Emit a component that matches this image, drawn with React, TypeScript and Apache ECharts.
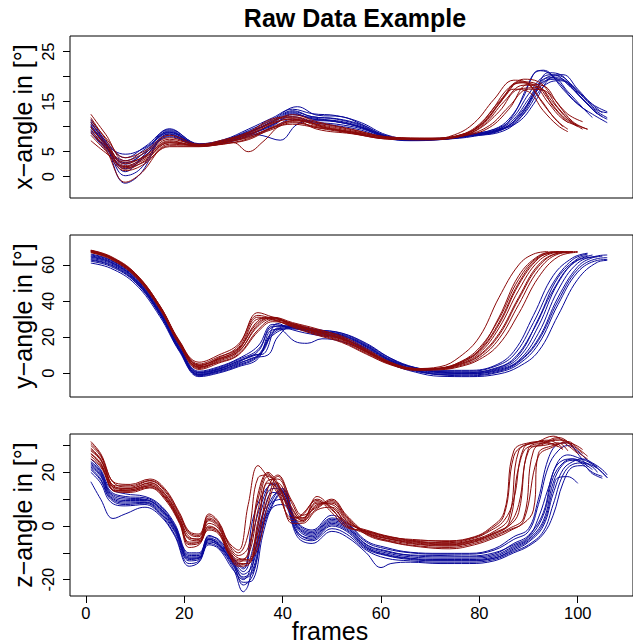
import { useEffect, useRef } from "react";
import * as echarts from "echarts";

type Curve = number[][];

const frameTicks = [0, 20, 40, 60, 80, 100];
const xAngleTicks = [0, 5, 10, 15, 20, 25];
const xAngleLabels = [0, 5, 15, 25];
const yAngleTicks = [0, 20, 40, 60];
const zAngleTicks = [-20, -10, 0, 10, 20, 30];
const zAngleLabels = [-20, 0, 20];

const chartTitle = "Raw Data Example";
const yTitles = ["x\u2212angle in [\u00b0]", "y\u2212angle in [\u00b0]", "z\u2212angle in [\u00b0]"];
const xTitle = "frames";

// ---------- x-angle ----------
const xAngleRed: Curve[] = [
  [[1,12.5],[4,8.5],[8,3.2],[12,4.8],[17,7.8],[23,6.3],[28,6.9],[33,8.2],[38,10.6],[42,11.6],[47,10.2],[54,8.9],[62,7.6],[70,7.5],[75,8.4],[79,10.8],[83,15.5],[87,19.3],[90,18.6],[93,14.5],[96,11],[98,9.5]],
  [[1,11.8],[4,7.5],[8,2.2],[12,3.8],[17,7.2],[23,6.1],[28,6.6],[33,7.6],[38,10],[42,11.2],[47,10.5],[54,9.2],[62,7.8],[70,7.6],[76,8.3],[80,10.2],[84,14.5],[88,19],[91,18.8],[94,15.5],[97,12],[100,10]],
  [[1,10.8],[4,6.8],[8,1.5],[12,3.2],[17,6.8],[23,6.2],[28,7],[33,8.6],[38,11],[42,12.4],[47,11],[54,9.5],[62,7.9],[70,7.7],[77,8.4],[81,10.5],[85,15],[89,18.3],[92,18],[95,14.8],[98,11.5],[101,9.5]],
  [[1,10],[4,6.2],[8,2.6],[12,4.2],[17,7.5],[23,6.4],[28,7.2],[33,8.8],[38,11.3],[42,11.8],[47,10.4],[54,9],[62,7.7],[70,7.6],[77,8.2],[82,9.8],[86,13.5],[90,18.5],[93,18.2],[96,14.5],[99,11],[102,9.5]],
  [[1,9.2],[4,5.5],[8,-1.1],[11,0.5],[17,6.2],[23,6.1],[28,6.5],[30,6.8],[33,5],[36,7],[40,10.6],[44,11.3],[48,10],[54,8.7],[62,7.5],[70,7.4],[76,8.3],[80,10.5],[84,15],[87,17.5],[90,17],[93,13.2],[96,10.2],[98,9]],
  [[1,8.3],[4,5.2],[8,1.2],[12,2.6],[17,6.5],[23,6.2],[28,6.8],[33,8],[38,9.8],[42,10.5],[47,9.8],[54,9],[62,7.8],[70,7.6],[77,8.5],[81,11],[85,16],[88,18.8],[91,18.4],[94,14.8],[97,11.5],[100,10.2]],
  [[1,7.2],[4,4.8],[8,2],[12,3.5],[17,6.8],[23,6.2],[28,7.2],[33,8.4],[38,10.8],[42,11.5],[47,9.5],[54,8.6],[62,7.5],[70,7.4],[76,8],[80,9.6],[84,13],[88,17.5],[92,17.8],[95,14],[98,10.8]],
  [[1,11.3],[4,7.8],[8,3.8],[12,5.2],[17,8.3],[23,6.5],[28,7.4],[33,8.9],[38,11.6],[42,12],[47,10.8],[54,9.4],[62,7.9],[70,7.7],[77,8.6],[81,10.8],[85,15.8],[89,19.5],[92,19],[95,15.8],[98,12.5],[101,11]],
  [[1,9.8],[4,6.5],[8,2.9],[12,4],[17,7],[23,6.3],[28,6.9],[33,7.8],[38,9.5],[42,10.8],[47,10],[54,8.8],[62,7.6],[70,7.5],[76,8.2],[79,9.5],[82,12.5],[86,17.8],[89,18.8],[92,16],[95,12],[97,10]],
  [[1,8.8],[4,5.8],[8,1.8],[12,3],[17,6],[23,6],[28,6.6],[33,7.4],[38,9.8],[42,11],[47,9.8],[54,8.7],[62,7.6],[70,7.5],[77,8.3],[82,10.2],[86,14],[90,17.5],[93,17.3],[96,13.8],[99,10.8],[102,9.5]],
];

const xAngleBlue: Curve[] = [
  [[1,11.5],[4,7],[8,1],[12,4.5],[17,9.2],[23,6.4],[28,7.1],[33,8.8],[38,11],[42,13],[46,12],[51,11.5],[56,10.2],[61,8],[66,7.4],[72,7.6],[78,8.3],[84,9.5],[87,12.5],[90,18.5],[92,21.2],[94,20.8],[97,17.5],[100,14.5],[103,12.5],[106,10.8]],
  [[1,10.8],[4,6.5],[8,-1.3],[11,0.5],[17,8.5],[23,6.2],[28,6.8],[33,8.4],[38,10.2],[42,12.4],[46,11.8],[51,11],[56,9.8],[61,7.8],[66,7.3],[72,7.5],[78,8.2],[84,9.2],[88,11.5],[91,16],[94,20.8],[96,20.6],[99,18],[102,15],[104,13.3],[106,12.8]],
  [[1,10.2],[4,6.8],[8,2.5],[12,5],[17,9.6],[23,6.5],[28,7.3],[33,9.2],[38,11.5],[43,14],[47,12.3],[52,12],[56,10.5],[61,8.2],[66,7.5],[72,7.6],[78,8.4],[84,9.8],[87,12],[90,16.5],[93,20],[95,20.4],[98,18.5],[101,15.5],[104,13],[106,11.8]],
  [[1,9.5],[4,6],[8,3.2],[12,5.5],[17,8.8],[23,6.3],[28,7],[33,8.6],[36,8.2],[39.5,7.3],[43,10.5],[47,11.2],[52,10.8],[57,9.5],[62,7.7],[67,7.3],[73,7.5],[79,8.1],[85,9.6],[89,13.5],[93,19],[96,19.5],[99,17.5],[102,14.5],[104,12.5]],
  [[1,8.7],[4,5.8],[8,2],[12,4.2],[17,8.2],[23,6.2],[28,6.9],[33,8.2],[38,10.5],[42,12],[46,11],[51,10.5],[56,9.6],[61,7.9],[66,7.4],[72,7.5],[78,8.2],[84,9.3],[88,12],[92,17.5],[95,19.8],[97,19.5],[100,16.5],[103,13.5],[105,12]],
  [[1,11],[4,7.2],[8,3.8],[12,6],[17,9.4],[23,6.6],[28,7.4],[33,9.5],[38,11.8],[42,13.5],[46,12.6],[51,12.2],[56,10.8],[61,8.4],[66,7.6],[72,7.7],[78,8.5],[83,9.5],[86,11.5],[89,16],[91,20.5],[93,21.3],[96,19],[99,15.5],[102,13]],
  [[1,10],[4,6.2],[8,1.6],[12,4],[17,8.9],[23,6.3],[28,7.2],[33,9],[38,10.8],[42,12.8],[46,11.5],[51,11.2],[56,10],[61,8.1],[66,7.4],[72,7.5],[78,8.3],[84,9.4],[88,11.8],[91,16.5],[94,20],[97,20.4],[100,17.5],[103,14.5],[106,13]],
  [[1,9],[4,5.5],[8,2.8],[12,4.8],[17,8],[23,6.1],[28,6.7],[33,8],[38,9.8],[42,11.5],[46,10.8],[51,10.2],[56,9.3],[61,7.7],[66,7.2],[72,7.4],[78,8.1],[85,9.2],[89,12.5],[93,18],[96,19.2],[98,18.8],[101,15.5],[104,12.6],[106,11.5]],
  [[1,10.5],[4,6.6],[8,4.5],[12,5.8],[17,9],[23,6.4],[28,7],[33,8.7],[38,11.2],[42,13.2],[46,12],[51,11.6],[56,10.4],[61,8.2],[66,7.5],[72,7.6],[78,8.3],[84,9.6],[87,11.5],[90,15.5],[93,19.5],[95,19.8],[98,17],[101,13.8],[103,11.8]],
  [[1,9.8],[4,6.4],[8,0.2],[11,1.5],[17,8.6],[23,6.3],[28,7.1],[33,8.5],[38,10.4],[42,12.6],[46,11.6],[51,11],[56,9.9],[61,8],[66,7.4],[72,7.5],[78,8.2],[84,9.4],[88,11],[91,14.5],[94,19.4],[96,20.2],[99,18.2],[102,15.2],[105,12.8]],
];

// ---------- y-angle ----------
const yAngleRed: Curve[] = [
  [[1,68],[5,64.5],[10,55],[15,37],[19,17.5],[23,4],[27,8.5],[31,15],[35,33.5],[38,31],[42,27.5],[47,23],[52,19],[57,12],[62,5.5],[67,2.5],[72,3.5],[76,9],[80,20],[84,42],[88,60],[91,66],[94,67.4]],
  [[1,67.6],[5,64],[10,54.5],[15,36.5],[19,16.5],[23,3],[27,7],[31,12.5],[35,30],[38,30.5],[42,27],[47,22.5],[52,18.5],[57,11.5],[62,5],[67,2],[72,2.8],[76,6],[80,14],[84,30],[88,52],[92,64.5],[96,67.4],[98,67.4]],
  [[1,67.2],[5,63.8],[10,54],[15,36],[19,16],[23,2.5],[27,6.5],[31,11.5],[35,27],[38,30.8],[42,26.5],[47,23.5],[52,19.5],[57,12.5],[62,5.5],[67,2.2],[72,2.5],[76,5],[80,11],[84,25],[88,46],[92,62],[96,67],[99,67.3]],
  [[1,67.8],[5,64.2],[10,55.2],[15,37.5],[19,18],[23,5],[27,9],[31,14],[35,31],[38,29.5],[42,26],[47,21.5],[52,17.5],[57,11],[62,4.8],[67,1.8],[72,2.4],[76,4.8],[80,10],[84,22],[88,42],[92,60],[96,66.5],[100,67.4]],
  [[1,67],[5,63.5],[10,54],[15,36],[19,16.5],[23,3.5],[27,6],[31,10.5],[35,24],[38,29.5],[42,27.5],[47,24],[52,20.5],[57,13.5],[62,6],[67,2.5],[72,2.2],[76,4],[80,8.5],[84,19],[88,38],[92,57],[96,66],[99,67]],
  [[1,68.2],[5,64.8],[10,55.5],[15,37.5],[19,17.5],[23,4.5],[27,8],[31,13],[35,29],[38,31],[42,28],[47,24.5],[52,20],[57,12.5],[62,5.2],[67,2],[72,2.6],[76,5.5],[80,12],[84,27],[88,49],[92,63.5],[95,67],[97,67.4]],
  [[1,66.8],[5,63.2],[10,53.5],[15,35.5],[19,15.5],[23,2],[27,5.5],[31,10],[35,23],[38,28.5],[42,26.8],[47,22],[52,18],[57,11.8],[62,5],[67,1.5],[72,1.8],[76,3.5],[80,7.5],[84,16],[88,33],[92,53],[96,64.5],[100,67]],
  [[1,67.5],[5,64],[10,54.8],[15,37],[19,17],[23,6],[27,10],[31,16],[35,32],[38,30],[42,25.5],[47,21],[52,17],[57,10.5],[62,4.5],[67,1.8],[72,2.5],[76,5.5],[80,12.5],[84,28],[88,50],[92,64],[96,67.2]],
  [[1,67.3],[5,63.9],[10,54.3],[15,36.2],[19,16.2],[23,3.2],[27,7.5],[31,12],[35,26],[38,30.2],[42,26.2],[47,22.8],[52,19.2],[57,12.8],[62,5.8],[67,2.4],[72,2.3],[76,4.5],[80,9.5],[84,21],[88,41],[92,59],[96,66.5],[99,67.2]],
  [[1,67.9],[5,64.4],[10,55],[15,37.2],[19,17.2],[23,4.2],[27,7.8],[31,13.5],[35,28],[38,30.6],[42,27.2],[47,23.2],[52,18.8],[57,12.2],[62,5.4],[67,2.2],[72,2.7],[76,6],[80,13],[84,31],[88,54],[92,65],[95,67.3]],
];

const yAngleBlue: Curve[] = [
  [[1,66],[5,62.8],[10,53.5],[15,35],[19,15],[23,1],[27,3.5],[31,8],[35,15],[38,27],[42,25],[47,23],[52,21],[57,15],[62,7],[67,3],[72,1.5],[78,1.5],[83,4],[87,12],[91,32],[95,54],[99,64],[102,66.5]],
  [[1,65],[5,62],[10,52.5],[15,34],[19,14],[23,0],[27,2.5],[31,6.5],[34,9.5],[36,12],[39,27.5],[42,24],[47,21],[52,19],[57,13.5],[62,6],[67,1.5],[72,0],[78,0.2],[83,2.5],[87,8],[91,24],[95,46],[99,61],[103,65.5]],
  [[1,64.2],[5,61.3],[10,52],[15,33.5],[19,13.5],[23,-0.5],[27,2],[31,6],[34,10],[36,10.5],[39,25],[43,17],[45,16.5],[48,19],[52,17.5],[57,12],[62,5.5],[67,1],[72,-0.5],[78,-0.5],[84,2],[88,7],[92,22],[96,46],[100,61],[104,65],[106,65.5]],
  [[1,63],[5,60.2],[10,51.2],[15,33],[19,13],[23,-1],[27,1.5],[31,5],[34,8.5],[37,10],[39,20],[42,26],[47,24],[52,22],[57,16],[62,8],[67,2.5],[72,0.5],[78,0],[84,2.5],[88,8.5],[92,26],[96,50],[100,62.5],[104,64.5]],
  [[1,62],[5,59.2],[10,50.5],[15,32.5],[19,12.5],[23,-1.5],[27,0.5],[31,4],[35,9],[38,22],[42,25.5],[47,22.5],[52,20.5],[57,14.5],[62,6.5],[67,1.5],[72,-1],[78,-1.5],[84,0.5],[88,5],[92,16],[96,38],[100,56],[104,62.5],[106,63]],
  [[1,61],[5,58.2],[10,49.5],[15,31.5],[19,12],[23,-2],[27,0],[31,3.5],[35,8],[38,24],[42,24.5],[47,21.5],[52,19.5],[57,13],[62,5],[67,0.5],[72,-1.8],[78,-2],[84,-0.5],[88,3.5],[92,12],[96,32],[100,52],[104,61.5],[106,62.5]],
  [[1,65.5],[5,62.5],[10,53],[15,34.5],[19,14.8],[23,0.5],[27,3],[31,7.5],[35,13],[38,25.5],[42,26.5],[47,23.5],[52,21.5],[57,15.5],[62,7.5],[67,2.8],[72,1],[78,1],[83,3.5],[87,10],[91,28],[95,50],[99,63],[102,66]],
  [[1,64.6],[5,61.6],[10,52.3],[15,33.8],[19,13.8],[23,0.2],[27,2.2],[31,6.8],[35,12],[38,26],[42,25.2],[47,22],[52,20],[57,14],[62,6.5],[67,2],[72,0.2],[78,-0.3],[84,1.5],[88,6.5],[92,19],[96,42],[100,59],[103,64],[105,64.8]],
  [[1,63.6],[5,60.8],[10,51.6],[15,33.2],[19,13.2],[23,-0.8],[27,1.2],[31,5.5],[35,10],[38,23],[42,25.8],[47,24],[52,22.2],[57,16.5],[62,8.2],[67,3],[72,0.8],[78,0.5],[84,3],[88,10],[92,30],[96,53],[100,63.5],[102,65.2]],
  [[1,62.6],[5,59.8],[10,50.8],[15,32.8],[19,12.8],[23,-1.2],[27,1],[31,4.5],[35,9.5],[38,21],[42,25],[47,23],[52,21],[57,15],[62,7],[67,1.8],[72,-0.8],[78,-1],[84,1],[88,6],[92,18],[96,40],[100,57.5],[104,63.5],[106,64]],
];

// ---------- z-angle ----------
const zAngleRed: Curve[] = [
  [[1,31.5],[3,27],[6,16],[9,15.5],[13,17.5],[16,14],[19,5],[21,-2],[23,-3],[25,4.5],[27,1.5],[29,-6],[31,-9],[33,8],[35,22.5],[37,18],[39,12],[42,3],[44,4],[47,10],[50,6],[53,1],[57,-1.5],[62,-4],[68,-5.5],[74,-5.5],[79,-4],[82,-1],[85,5],[87,28],[90,31],[93,31.5],[96,29.5]],
  [[1,30],[3,26],[6,15.5],[9,14.5],[13,16.8],[16,13],[19,4],[21,-3],[23,-4],[25,3],[27,0.5],[29,-7],[31,-11],[33,-8],[35,10],[37,19.5],[39,15],[42,4],[44,3],[47,9],[50,7],[53,1.5],[57,-2],[62,-4.5],[68,-6],[74,-6.5],[79,-5],[83,-2],[86,3],[88,28],[91,31],[94,32],[97,29]],
  [[1,29],[3,25],[6,14.5],[9,14],[13,16],[16,12],[19,3],[21,-4],[23,-5],[25,2],[27,-0.5],[29,-8],[31,-12],[33,-12.5],[35,2],[37,17],[39,17.5],[42,6],[44,2.5],[47,8.5],[50,8],[53,2],[57,-2.5],[62,-5],[68,-6.5],[74,-7],[79,-5.5],[83,-3],[86,0],[88,5],[90,29],[93,31],[96,33],[99,30],[101,27]],
  [[1,28],[3,24.5],[6,14],[9,13.5],[13,15.5],[16,11.5],[19,2.5],[21,-5],[23,-5.5],[25,1],[27,-1],[29,-9],[31,-13],[33,-13],[35,-5],[37,14],[39,19],[42,8],[44,3],[47,7.5],[50,9],[53,3],[57,-3],[62,-5.5],[68,-7],[74,-7.5],[79,-6],[83,-3.5],[86,-1],[89,3],[91,28],[94,31.5],[97,32],[100,27.5],[102,25]],
  [[1,27],[3,23.5],[6,13],[9,13],[13,15],[16,11],[19,2],[21,-6],[23,-6],[25,0],[27,-2],[29,-9.5],[31,-14],[33,-14],[35,0],[37,16],[39,14],[42,1],[44,1],[47,6],[50,7],[53,0.5],[57,-2.8],[62,-5],[68,-6.8],[74,-7.2],[79,-5.8],[83,-2.5],[86,1],[88,22],[90,29.5],[93,30],[96,31],[98,28]],
  [[1,26],[3,22.5],[6,13.5],[9,13],[13,14.5],[16,10.5],[19,1.5],[21,-7],[23,-6.5],[25,-1],[27,-2.5],[29,-10],[31,-13.5],[33,-10],[35,12],[37,20],[39,16],[42,5],[44,2],[47,11],[50,6.5],[53,0],[57,-2],[62,-4.2],[68,-5.8],[74,-6.2],[79,-4.5],[82,-2],[85,2],[87,10],[89,29],[92,31.5],[95,33.5],[98,30],[100,27]],
  [[1,25],[3,22],[6,12.8],[9,12.5],[13,14.2],[16,10],[19,1],[21,-8],[23,-7],[25,-1.5],[27,-3],[29,-10.5],[31,-15],[33,-14.5],[35,-2],[37,10],[39,18.5],[42,9],[44,4],[47,7],[50,10],[53,4],[57,-2.5],[62,-5.8],[68,-7.5],[74,-8],[79,-6.5],[83,-4],[86,-1.5],[89,1],[91,6],[92,27],[95,30],[98,31],[101,28.5]],
  [[1,30.8],[3,26.5],[6,15],[9,15],[13,17],[16,13.5],[19,4.5],[21,-2.5],[23,-3.5],[25,3.8],[27,1],[29,-6.5],[31,-10],[33,-3],[35,18],[37,19],[39,13],[42,2],[44,4.5],[47,9.5],[50,5],[53,-0.5],[57,-1.8],[62,-4.2],[68,-5.2],[74,-5.8],[79,-4.2],[82,-1.5],[85,4],[87,26],[89,30],[92,31],[95,30.5],[97,28.5]],
  [[1,28.5],[3,24.8],[6,14.2],[9,14],[13,16.2],[16,12.2],[19,3.2],[21,-4.5],[23,-4.8],[25,2.5],[27,0],[29,-8.5],[31,-12.5],[33,-11],[35,6],[37,18.5],[39,15.5],[42,3.5],[44,1.5],[47,8],[50,8.5],[53,2.5],[57,-2.2],[62,-4.8],[68,-6.2],[74,-6.8],[79,-5.2],[83,-2.8],[86,0.5],[88,8],[90,28],[93,30.5],[96,32.5],[99,29.5]],
  [[1,26.8],[3,23],[6,13.2],[9,13.4],[13,15],[16,10.8],[19,1.8],[21,-6.5],[23,-6],[25,-0.5],[27,-2],[29,-10],[31,-14.5],[33,-13.5],[35,-8],[37,8],[39,16],[42,6.5],[44,2],[47,6.5],[50,9.5],[53,3.5],[57,-3.2],[62,-6],[68,-7.8],[74,-8.5],[79,-7],[83,-4.5],[86,-2],[89,2],[92,26],[95,29.5],[98,31.5],[100,29],[102,26]],
];

const zAngleBlue: Curve[] = [
  [[1,25],[3,21],[5,14],[8,12],[12,11],[15,8],[18,1],[21,-10],[23,-10],[25,-4],[27,-5],[30,-12],[32,-15.5],[34,3],[36,12],[38,15.5],[40,12],[43,1],[46,-2],[50,3],[53,1],[57,-6],[61,-8.5],[66,-10],[72,-10.5],[78,-10.5],[83,-9],[87,-5],[90,-2],[92,8],[94,22],[96,28],[98,30],[100,28],[102,24.5],[104,22]],
  [[1,23.5],[3,20],[5,12.5],[8,10.5],[12,10],[15,7],[18,0],[21,-11],[23,-11],[25,-4.5],[27,-6],[30,-13],[32,-17],[34,-8],[36,8],[38,14],[40,13],[43,0],[46,-3],[50,2],[53,0],[57,-7],[61,-9.5],[66,-11],[72,-11.5],[78,-11.5],[83,-10.5],[87,-6.5],[90,-3.5],[93,5],[95,20],[97,24.5],[99,25],[101,24],[104,21.5],[106,18]],
  [[1,22],[3,18.5],[5,11],[8,9],[12,9],[15,6],[18,-1],[21,-12],[23,-12],[25,-5],[27,-7],[30,-14],[32,-19],[34,-16],[36,2],[38,11],[40,13.5],[43,-1],[46,-4],[50,1],[53,-1],[57,-8],[61,-10.5],[66,-12],[72,-12.5],[78,-12.5],[83,-11.5],[87,-8],[90,-5],[93,2],[95,16],[97,23],[99,24.5],[101,23.5],[103,21]],
  [[1,21],[3,17],[5,10],[8,8],[12,8.5],[15,5],[18,-2],[21,-13],[23,-12.5],[25,-5.5],[27,-7.5],[30,-15],[32,-21],[34,-20],[36,-3],[38,8],[40,12.5],[43,-2],[46,-5],[50,0],[53,-2],[57,-8.5],[61,-11],[66,-12.5],[72,-13],[78,-13],[83,-12],[87,-9],[90,-6],[93,0],[95,12],[97,21],[99,24],[101,25],[103,23.5],[105,21],[106,19]],
  [[1,20],[3,16],[5,9],[8,7.5],[12,8],[15,4.5],[18,-3],[21,-14],[23,-13],[25,-6.5],[27,-8],[30,-16],[32,-24.5],[33,-22],[35,-5],[37,5],[40,13],[43,-3],[46,-5.5],[50,-1],[53,-3],[57,-9],[61,-12],[66,-13],[72,-13.5],[78,-13.5],[83,-12.5],[87,-9.5],[90,-7],[93,-2],[95,8],[97,19],[99,23],[101,23.5],[103,22],[104,20]],
  [[1,16.5],[3,10],[5.5,2.8],[8,4.5],[12,7],[15,4],[18,-3.5],[21,-15],[23,-13.5],[25,-7],[27,-8.5],[30,-16.5],[32,-20],[34,-12],[36,5],[38,9],[40,10],[43,-4],[46,-6.5],[50,-2],[53,-4],[57,-10],[60,-15.5],[62,-14],[66,-13.5],[72,-14],[78,-14],[83,-13],[87,-10],[90,-7.5],[93,-3],[95,4],[97,16],[99,22],[101,22.5],[103,19.5],[105,17.8]],
  [[1,24],[3,20.5],[5,13],[8,11],[12,10.5],[15,7.5],[18,0.5],[21,-10.5],[23,-10.5],[25,-3.5],[27,-5.5],[30,-12.5],[32,-16],[34,-2],[36,10],[38,16],[40,13],[43,1.5],[46,-1.5],[50,4],[53,1.5],[57,-5.5],[61,-8],[66,-9.8],[72,-10.2],[78,-10.2],[83,-8.5],[87,-4],[90,-1],[92,10],[94,25],[96,30.5],[98,31],[100,27],[102,22]],
  [[1,22.5],[3,19],[5,11.5],[8,9.5],[12,9.5],[15,6.5],[18,-0.5],[21,-11.5],[23,-11.5],[25,-5],[27,-6.5],[30,-13.5],[32,-18],[34,-14],[36,4],[38,12.5],[40,11],[43,-0.5],[46,-3.5],[50,1.5],[53,-0.5],[57,-7.5],[61,-10],[66,-11.5],[72,-12],[78,-12],[83,-11],[87,-7.5],[90,-4.5],[93,4],[95,18],[97,23.5],[99,25],[101,23],[103,20],[105,18.5]],
  [[1,21.5],[3,17.5],[5,10.5],[8,8.5],[12,8.8],[15,5.5],[18,-1.5],[21,-12.5],[23,-12],[25,-6],[27,-7.2],[30,-14.5],[32,-22],[34,-18],[36,-1],[38,7],[40,8],[43,-2.5],[46,-4.5],[50,0.5],[53,-1.5],[57,-8],[61,-10.8],[66,-12.2],[72,-12.8],[78,-12.8],[83,-12],[87,-8.5],[90,-5.5],[93,1],[95,14],[96,18],[98,18.4],[100,15.9]],
  [[1,23],[3,19.5],[5,12],[8,10],[12,9.8],[15,6.8],[18,-0.2],[21,-12],[23,-11.8],[25,-4.8],[27,-6.8],[30,-14],[32,-19.5],[34,-17],[36,0],[38,10],[40,14],[43,0.5],[46,-2.5],[50,2.5],[53,0.5],[57,-6.8],[61,-9.2],[66,-10.8],[72,-11],[78,-11.2],[83,-10],[87,-7],[90,-4],[92,3],[94,14],[96,24],[98,26.5],[100,25.5],[103,23],[106,18]],
];

const RED = "#8B0A0A";
const BLUE = "#0A0A9A";
const FONT = "'Liberation Sans', Arial, Helvetica, sans-serif";

export default function App() {
  const ref = useRef<HTMLDivElement>(null);

  useEffect(() => {
    document.body.style.margin = "0";
    if (!ref.current) return;
    const chart = echarts.init(ref.current, undefined, { renderer: "svg" });

    const gridTops = [36, 235, 434];
    const grids = gridTops.map((top) => ({
      left: 70,
      top,
      width: 564,
      height: 162,
      show: true,
      borderColor: "#000",
      borderWidth: 1,
      backgroundColor: "transparent",
      containLabel: false,
    }));

    const xAxes = [0, 1, 2].map((i) => ({
      type: "value",
      gridIndex: i,
      position: "bottom",
      min: -3.24,
      max: 111.24,
      splitLine: { show: false },
      axisLine: { show: false, onZero: false },
      axisTick: {
        show: i === 2,
        customValues: frameTicks,
        length: 7,
        inside: false,
        lineStyle: { color: "#000", width: 1 },
      },
      axisLabel: {
        show: i === 2,
        customValues: frameTicks,
        margin: 8,
        fontSize: 16.5,
        fontFamily: FONT,
        color: "#000",
      },
    }));

    const yDefs = [
      { min: -4.26, max: 28.14, ticks: xAngleTicks, labels: xAngleLabels },
      { min: -13.3, max: 76.6, ticks: yAngleTicks, labels: yAngleTicks },
      { min: -26.1, max: 34.3, ticks: zAngleTicks, labels: zAngleLabels },
    ];
    const yAxes = yDefs.map((d, i) => ({
      type: "value",
      gridIndex: i,
      position: "left",
      min: d.min,
      max: d.max,
      splitLine: { show: false },
      axisLine: { show: false, onZero: false },
      axisTick: {
        show: true,
        customValues: d.ticks,
        length: 7,
        inside: false,
        lineStyle: { color: "#000", width: 1 },
      },
      axisLabel: {
        customValues: d.labels,
        rotate: 90,
        margin: 14,
        fontSize: 16.5,
        fontFamily: FONT,
        color: "#000",
      },
    }));

    const mk = (curves: Curve[], color: string, gi: number) =>
      curves.map((c) => ({
        type: "line",
        data: c,
        xAxisIndex: gi,
        yAxisIndex: gi,
        showSymbol: false,
        symbol: "none",
        smooth: 0.4,
        silent: true,
        lineStyle: { color, width: 1 },
        emphasis: { disabled: true },
      }));

    const series = [
      ...mk(xAngleBlue, BLUE, 0),
      ...mk(xAngleRed, RED, 0),
      ...mk(yAngleBlue, BLUE, 1),
      ...mk(yAngleRed, RED, 1),
      ...mk(zAngleBlue, BLUE, 2),
      ...mk(zAngleRed, RED, 2),
    ];

    const centers = gridTops.map((t) => t + 81);
    const graphic = [
      {
        type: "text",
        x: 355,
        y: 18,
        style: {
          text: chartTitle,
          font: `bold 25px ${FONT}`,
          fill: "#000",
          textAlign: "center",
          textVerticalAlign: "middle",
        },
      },
      {
        type: "text",
        x: 330,
        y: 631,
        style: {
          text: xTitle,
          font: `25px ${FONT}`,
          fill: "#000",
          textAlign: "center",
          textVerticalAlign: "middle",
        },
      },
      ...yTitles.map((t, i) => ({
        type: "text",
        x: 23,
        y: centers[i],
        rotation: Math.PI / 2,
        style: {
          text: t,
          font: `25px ${FONT}`,
          fill: "#000",
          textAlign: "center",
          textVerticalAlign: "middle",
        },
      })),
    ];

    chart.setOption({
      animation: false,
      backgroundColor: "#fff",
      grid: grids,
      xAxis: xAxes,
      yAxis: yAxes,
      series,
      graphic,
    });

    return () => chart.dispose();
  }, []);

  return <div ref={ref} style={{ width: 633, height: 644 }} />;
}
